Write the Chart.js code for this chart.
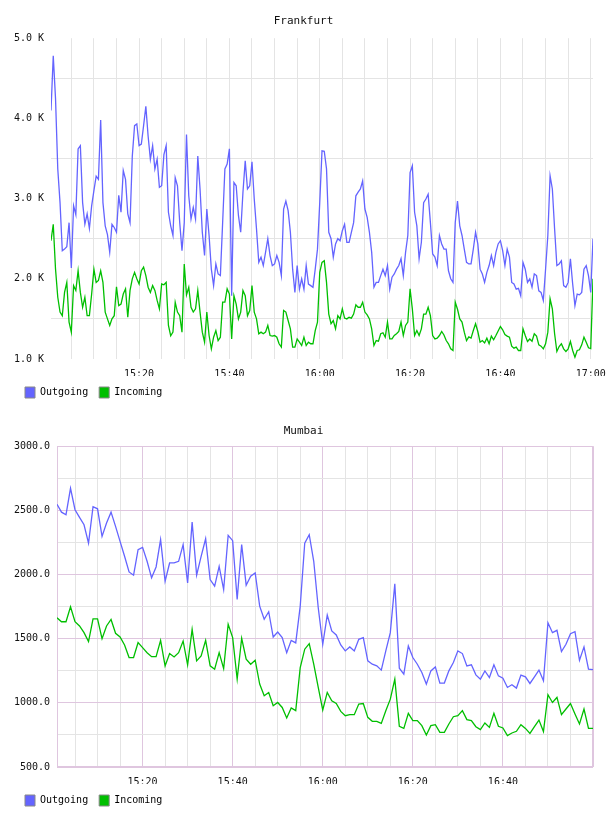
<!DOCTYPE html>
<html>
<head>
<meta charset="utf-8">
<script src="https://cdn.jsdelivr.net/npm/chart.js@4.4.0/dist/chart.umd.min.js"></script>
<style>
  body { margin: 0; background: #fff; }
  canvas { display: block; }
</style>
</head>
<body>
<canvas id="frankfurt" width="608" height="408"></canvas>
<canvas id="mumbai" width="608" height="408"></canvas>
<script>
const FONT = 'DejaVu Sans Mono'
const BLUE = '#6464ff'
const GREEN = '#00bf00'
const GRID = '#e4e4e4'
const PURPLE = '#dfc6df'

const seriesNames = ['Outgoing', 'Incoming']

// Frankfurt: one sample every 30 s, first one at 15:00:30 (x = minutes after 15:00)
const fraStartMin = 0.5
const fraStepMin = 0.5
const fraOut = [
  4100, 4780, 4250, 3370, 2950, 2350, 2370, 2400, 2700, 2135,
  2910, 2800, 3620, 3660, 2950, 2680, 2810, 2630, 2910, 3100,
  3280, 3240, 3980, 2950, 2660, 2550, 2330, 2680, 2640, 2580,
  3040, 2830, 3350, 3240, 2810, 2700, 3530, 3910, 3930, 3660,
  3680, 3910, 4150, 3780, 3490, 3660, 3370, 3490, 3140, 3160,
  3550, 3660, 2830, 2660, 2540, 3260, 3160, 2700, 2350, 2700,
  3800, 3035, 2745, 2890, 2745, 3530, 3120, 2580, 2290, 2870,
  2540, 2120, 1915, 2185, 2060, 2040, 2700, 3370, 3430, 3620,
  1790, 3200, 3160, 2790, 2580, 3080, 3470, 3120, 3160, 3460,
  2994, 2620, 2205, 2270, 2165, 2330, 2500, 2290, 2165, 2185,
  2290, 2205, 2040, 2870, 2970, 2850, 2580, 2120, 1830, 2165,
  1870, 2000, 1870, 2165, 1935, 1915, 1895, 2120, 2370, 2950,
  3595, 3590, 3370, 2580, 2500, 2270, 2435, 2500, 2475, 2600,
  2680, 2455, 2455, 2580, 2700, 3035, 3080, 3120, 3220, 2870,
  2765, 2580, 2330, 1895, 1955, 1955, 2040, 2120, 2040, 2165,
  1870, 2020, 2060, 2120, 2165, 2250, 2040, 2330, 2540, 3325,
  3410, 2830, 2660, 2250, 2455, 2950, 2995, 3055, 2700, 2310,
  2270, 2165, 2540, 2435, 2370, 2370, 2100, 2000, 1955, 2700,
  2970, 2660, 2540, 2370, 2205, 2185, 2185, 2370, 2580, 2435,
  2120, 2060, 1955, 2080, 2165, 2290, 2165, 2330, 2435, 2475,
  2350, 2165, 2370, 2270, 1955, 1935, 1870, 1880, 1790, 2205,
  2120, 1955, 2000, 1895, 2060, 2040, 1850, 1830, 1730, 2120,
  2540, 3285, 3120, 2620, 2165, 2185, 2225, 1915, 1895, 1955,
  2250, 1935, 1665, 1810, 1800, 1830, 2120, 2165, 2040, 1830,
  2500
]
const fraIn = [
  2475, 2680, 2123, 1770, 1585, 1540, 1830, 1955, 1460, 1335,
  1915, 1855, 2100, 1830, 1645, 1770, 1540, 1540, 1810, 2120,
  1955, 1980, 2100, 1955, 1585, 1500, 1418, 1500, 1540, 1900,
  1665, 1685, 1810, 1875, 1520, 1855, 2000, 2080, 2000, 1935,
  2100, 2145, 2040, 1895, 1830, 1915, 1855, 1730, 1625, 1935,
  1925, 1955, 1418, 1290, 1335, 1708, 1585, 1540, 1335, 2185,
  1800, 1895, 1645, 1585, 1625, 1855, 1585, 1335, 1210, 1585,
  1293, 1127, 1272, 1355, 1230, 1272, 1708, 1708, 1875, 1810,
  1250, 1790, 1685, 1500, 1585, 1855, 1790, 1540, 1605, 1915,
  1585, 1500, 1315, 1335, 1315, 1335, 1418, 1293, 1285, 1293,
  1272, 1190, 1148, 1605, 1585, 1480, 1376, 1148, 1148, 1250,
  1210, 1168, 1272, 1168, 1210, 1190, 1190, 1355, 1460, 2080,
  2205, 2225, 1955, 1560, 1440, 1480, 1376, 1540, 1500, 1625,
  1510, 1500, 1520, 1510, 1560, 1675, 1645, 1645, 1708, 1585,
  1550, 1500, 1376, 1168, 1230, 1222, 1315, 1327, 1272, 1460,
  1250, 1250, 1293, 1315, 1343, 1460, 1293, 1418, 1460, 1875,
  1625, 1293, 1355, 1293, 1376, 1560, 1560, 1645, 1540, 1293,
  1250, 1260, 1293, 1343, 1300, 1230, 1190, 1127, 1106, 1708,
  1620, 1500, 1460, 1335, 1230, 1276, 1260, 1355, 1440, 1343,
  1210, 1230, 1200, 1260, 1190, 1285, 1240, 1293, 1350, 1405,
  1364, 1305, 1285, 1272, 1160, 1135, 1148, 1106, 1106, 1376,
  1293, 1218, 1250, 1222, 1315, 1285, 1176, 1160, 1127, 1190,
  1335, 1750, 1625, 1315, 1094, 1156, 1190, 1127, 1094, 1127,
  1218, 1106, 1023, 1106, 1115, 1176, 1272, 1210, 1140, 1130,
  2000
]

// Mumbai: one sample per minute, 15:01 .. 17:00
const mumStartMin = 1
const mumStepMin = 1
const mumOut = [
  2548, 2486, 2466, 2672, 2505, 2445, 2388, 2245, 2528, 2512,
  2297, 2401, 2486, 2375, 2258, 2142, 2020, 1995, 2194, 2212,
  2103, 1974, 2059, 2272, 1948, 2090, 2090, 2103, 2233, 1935,
  2408, 1995, 2142, 2279, 1961, 1909, 2064, 1883, 2305, 2264,
  1806, 2233, 1917, 1987, 2012, 1754, 1651, 1710, 1513, 1552,
  1508, 1391, 1487, 1467, 1754, 2245, 2310, 2103, 1741, 1456,
  1684, 1560, 1529, 1451, 1405, 1436, 1405, 1495, 1508, 1327,
  1301, 1288, 1255, 1405, 1547, 1927, 1270, 1224, 1443, 1353,
  1301, 1236, 1146, 1249, 1280, 1154, 1154, 1249, 1314, 1405,
  1384, 1288, 1296, 1218, 1185, 1249, 1197, 1296, 1210, 1192,
  1120, 1141, 1115, 1216, 1203, 1151, 1203, 1255, 1172, 1624,
  1547, 1565, 1399, 1456, 1539, 1555, 1332, 1436, 1262, 1259
]
const mumIn = [
  1663, 1632, 1632, 1749, 1632, 1599, 1547, 1477, 1655, 1655,
  1500, 1599, 1650, 1542, 1513, 1451, 1353, 1353, 1469, 1430,
  1391, 1360, 1360, 1487, 1288, 1384, 1358, 1391, 1482, 1296,
  1573, 1327, 1366, 1487, 1288, 1262, 1391, 1267, 1612, 1508,
  1185, 1503, 1340, 1301, 1332, 1146, 1055, 1081, 977, 1003,
  964, 882, 960, 939, 1275, 1418, 1461, 1301, 1120, 944,
  1081, 1016, 995, 933, 900, 908, 908, 991, 995, 887,
  856, 856, 840, 939, 1029, 1185, 817, 801, 918, 861,
  861, 822, 750, 822, 830, 770, 770, 835, 892, 900,
  939, 869, 861, 814, 791, 843, 809, 918, 817, 804,
  745, 765, 778, 830, 801, 762, 814, 866, 776, 1063,
  1003, 1042, 908, 952, 995, 913, 835, 952, 801, 801
]

const fraTickMin = [20, 40, 60, 80, 100, 120]
const fraTickLabels = ['15:20', '15:40', '16:00', '16:20', '16:40', '17:00']
const mumTickMin = [20, 40, 60, 80, 100]
const mumTickLabels = ['15:20', '15:40', '16:00', '16:20', '16:40']

const fraYValues = [1000, 2000, 3000, 4000, 5000]
const fraYLabels = ['1.0 K', '2.0 K', '3.0 K', '4.0 K', '5.0 K']
const mumYValues = [500, 1000, 1500, 2000, 2500, 3000]
const mumYLabels = ['500.0', '1000.0', '1500.0', '2000.0', '2500.0', '3000.0']

function points(vals, start, step) {
  return vals.map((v, i) => ({x: start + i * step, y: v}))
}

function pick(values, labels) {
  return v => {
    const i = values.indexOf(v)
    return i < 0 ? '' : labels[i]
  }
}

// grid every `step` units inside the axis range
function everyStep(step) {
  return s => {
    const ticks = []
    for (let v = Math.ceil(s.min / step) * step; v <= s.max + 1e-9; v += step) ticks.push({value: v})
    s.ticks = ticks
  }
}

// lavender frame round the Mumbai plot
const frame = {
  id: 'frame',
  beforeDatasetsDraw(chart) {
    const {ctx, chartArea: a} = chart
    ctx.save()
    ctx.strokeStyle = PURPLE
    ctx.lineWidth = 1
    ctx.strokeRect(Math.round(a.left) + 0.5, Math.round(a.top) + 0.5,
      Math.round(a.right - a.left) - 1, Math.round(a.bottom - a.top) - 1)
    ctx.restore()
  }
}

function makeChart(id, o) {
  return new Chart(document.getElementById(id), {
    type: 'line',
    data: {
      datasets: [
        {label: seriesNames[0], data: points(o.out, o.start, o.step), borderColor: BLUE, backgroundColor: BLUE},
        {label: seriesNames[1], data: points(o.inc, o.start, o.step), borderColor: GREEN, backgroundColor: GREEN}
      ]
    },
    options: {
      responsive: false,
      animation: false,
      devicePixelRatio: 1,
      elements: {point: {radius: 0}, line: {borderWidth: 1.3, tension: 0}},
      layout: {padding: {left: 14, right: 15, top: 0, bottom: 0}},
      plugins: {
        title: {
          display: true, text: o.title, color: '#111',
          font: {family: FONT, size: 11, weight: 'normal'},
          padding: o.titlePad
        },
        legend: {
          position: 'bottom', align: 'start',
          labels: {
            boxWidth: 10, boxHeight: 11, padding: 11, color: '#111',
            font: {family: FONT, size: 10},
            generateLabels: ch => ch.data.datasets.map((d, i) => ({
              text: d.label, fillStyle: d.borderColor, strokeStyle: '#888',
              lineWidth: 1, datasetIndex: i
            }))
          }
        },
        tooltip: {enabled: false}
      },
      scales: {
        x: {
          type: 'linear', min: o.xmin, max: o.xmax,
          afterBuildTicks: everyStep(5),
          afterFit: s => { s.height = 17; s.paddingLeft = 0; s.paddingRight = 0 },
          grid: {drawTicks: false, color: c => o.vGrid(c.tick.value)},
          border: {display: false},
          ticks: {
            autoSkip: false, maxRotation: 0, padding: 9, color: '#111',
            font: {family: FONT, size: 10},
            callback: pick(o.tickMin, o.tickLabels)
          }
        },
        y: {
          min: o.ymin, max: o.ymax,
          afterBuildTicks: everyStep(o.ystep),
          afterFit: s => { s.width = o.yWidth },
          grid: {drawTicks: false, color: c => o.hGrid(c.tick.value)},
          border: {display: false},
          ticks: {
            padding: 7, color: '#111',
            font: {family: FONT, size: 10},
            callback: pick(o.yValues, o.yLabels)
          }
        }
      }
    },
    plugins: o.plugins
  })
}

makeChart('frankfurt', {
  title: 'Frankfurt', titlePad: {top: 15, bottom: 10},
  out: fraOut, inc: fraIn, start: fraStartMin, step: fraStepMin,
  xmin: 0.5, xmax: 120.5, ymin: 1000, ymax: 5000, ystep: 500, yWidth: 37,
  tickMin: fraTickMin, tickLabels: fraTickLabels,
  yValues: fraYValues, yLabels: fraYLabels,
  vGrid: () => GRID,
  hGrid: v => v % 1000 === 500 ? GRID : 'rgba(0,0,0,0)',
  plugins: []
})

makeChart('mumbai', {
  title: 'Mumbai', titlePad: {top: 17, bottom: 8},
  out: mumOut, inc: mumIn, start: mumStartMin, step: mumStepMin,
  xmin: 1, xmax: 120, ymin: 500, ymax: 3000, ystep: 250, yWidth: 43,
  tickMin: mumTickMin, tickLabels: mumTickLabels,
  yValues: mumYValues, yLabels: mumYLabels,
  vGrid: v => v % 20 === 0 ? PURPLE : GRID,
  hGrid: v => v % 500 === 0 ? PURPLE : GRID,
  plugins: [frame]
})
</script>
</body>
</html>
